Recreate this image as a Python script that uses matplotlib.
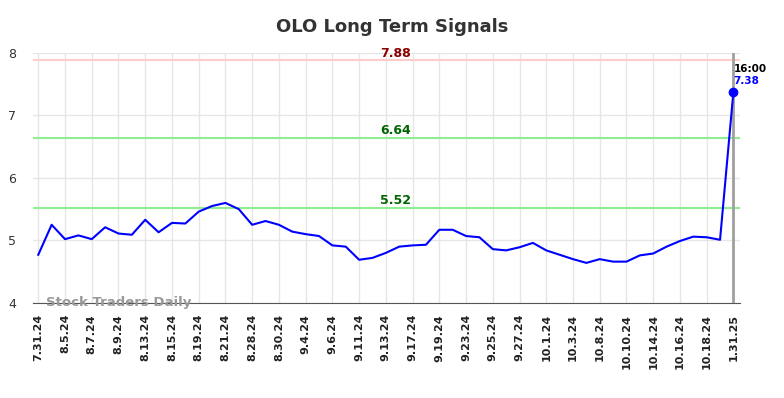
import matplotlib
matplotlib.use('Agg')
import matplotlib.pyplot as plt

title = 'OLO Long Term Signals'
dates = ['7.31.24', '8.5.24', '8.7.24', '8.9.24', '8.13.24', '8.15.24', '8.19.24',
         '8.21.24', '8.28.24', '8.30.24', '9.4.24', '9.6.24', '9.11.24', '9.13.24',
         '9.17.24', '9.19.24', '9.23.24', '9.25.24', '9.27.24', '10.1.24', '10.3.24',
         '10.8.24', '10.10.24', '10.14.24', '10.16.24', '10.18.24', '1.31.25']
tick_idx = list(range(0, 52, 2)) + [52]
prices = [4.77, 5.25, 5.02, 5.08, 5.02, 5.21, 5.11, 5.09, 5.33, 5.13,
          5.28, 5.27, 5.46, 5.55, 5.60, 5.50, 5.25, 5.31, 5.25, 5.14,
          5.10, 5.07, 4.92, 4.90, 4.69, 4.72, 4.80, 4.90, 4.92, 4.93,
          5.17, 5.17, 5.07, 5.05, 4.86, 4.84, 4.89, 4.96, 4.84, 4.77,
          4.70, 4.64, 4.70, 4.66, 4.66, 4.76, 4.79, 4.90, 4.99, 5.06,
          5.05, 5.01, 7.38]
levels = [7.88, 6.64, 5.52]
level_colors = ['#ffcccc', '#90ee90', '#90ee90']
label_colors = ['#8b0000', '#006400', '#006400']
last_time = '16:00'

fig = plt.figure(figsize=(7.84, 3.98), dpi=100)
ax = fig.add_axes([0.042, 0.239, 0.902, 0.628])

x = list(range(len(prices)))
for lv, lc, tc in zip(levels, level_colors, label_colors):
    ax.axhline(lv, color=lc, lw=1.5, zorder=2)
    ax.text(26.7, lv + 0.01, f'{lv:.2f}', color=tc, fontsize=9, fontweight='bold',
            ha='center', va='bottom', zorder=5)

ax.plot(x, prices, color='#0000ff', lw=1.5, zorder=4)
ax.plot(x[-1], prices[-1], 'o', color='#0000ff', ms=6, zorder=5)
ax.axvline(x[-1], color='#a0a0a0', lw=2, zorder=3)

ax.text(x[-1], prices[-1] + 0.29, last_time, fontsize=7.5, fontweight='bold',
        color='black', ha='left', va='bottom')
ax.text(x[-1], prices[-1] + 0.09, f'{prices[-1]:.2f}', fontsize=7.5, fontweight='bold',
        color='#0000ff', ha='left', va='bottom')

ax.text(0.6, 4.0, 'Stock Traders Daily', fontsize=9.5, fontweight='bold',
        color='#999999', ha='left', va='center', zorder=6)

ax.set_xlim(-0.4, 52.5)
ax.set_ylim(4, 8)
ax.set_yticks([4, 5, 6, 7, 8])
ax.set_xticks(tick_idx)
ax.set_xticklabels(dates, rotation=90, fontsize=8, fontweight='bold', color='#222222')
ax.tick_params(axis='y', labelsize=9, colors='#333333', length=0, pad=12)
ax.tick_params(axis='x', length=0, pad=8)
ax.grid(True, color='#e6e6e6', lw=1)
ax.set_axisbelow(True)
for s in ['top', 'right', 'left']:
    ax.spines[s].set_visible(False)
ax.spines['bottom'].set_color('#555555')

fig.suptitle(title, x=0.5, y=0.955, fontsize=13, fontweight='bold', color='#333333')

fig.savefig('out.png', dpi=100)
